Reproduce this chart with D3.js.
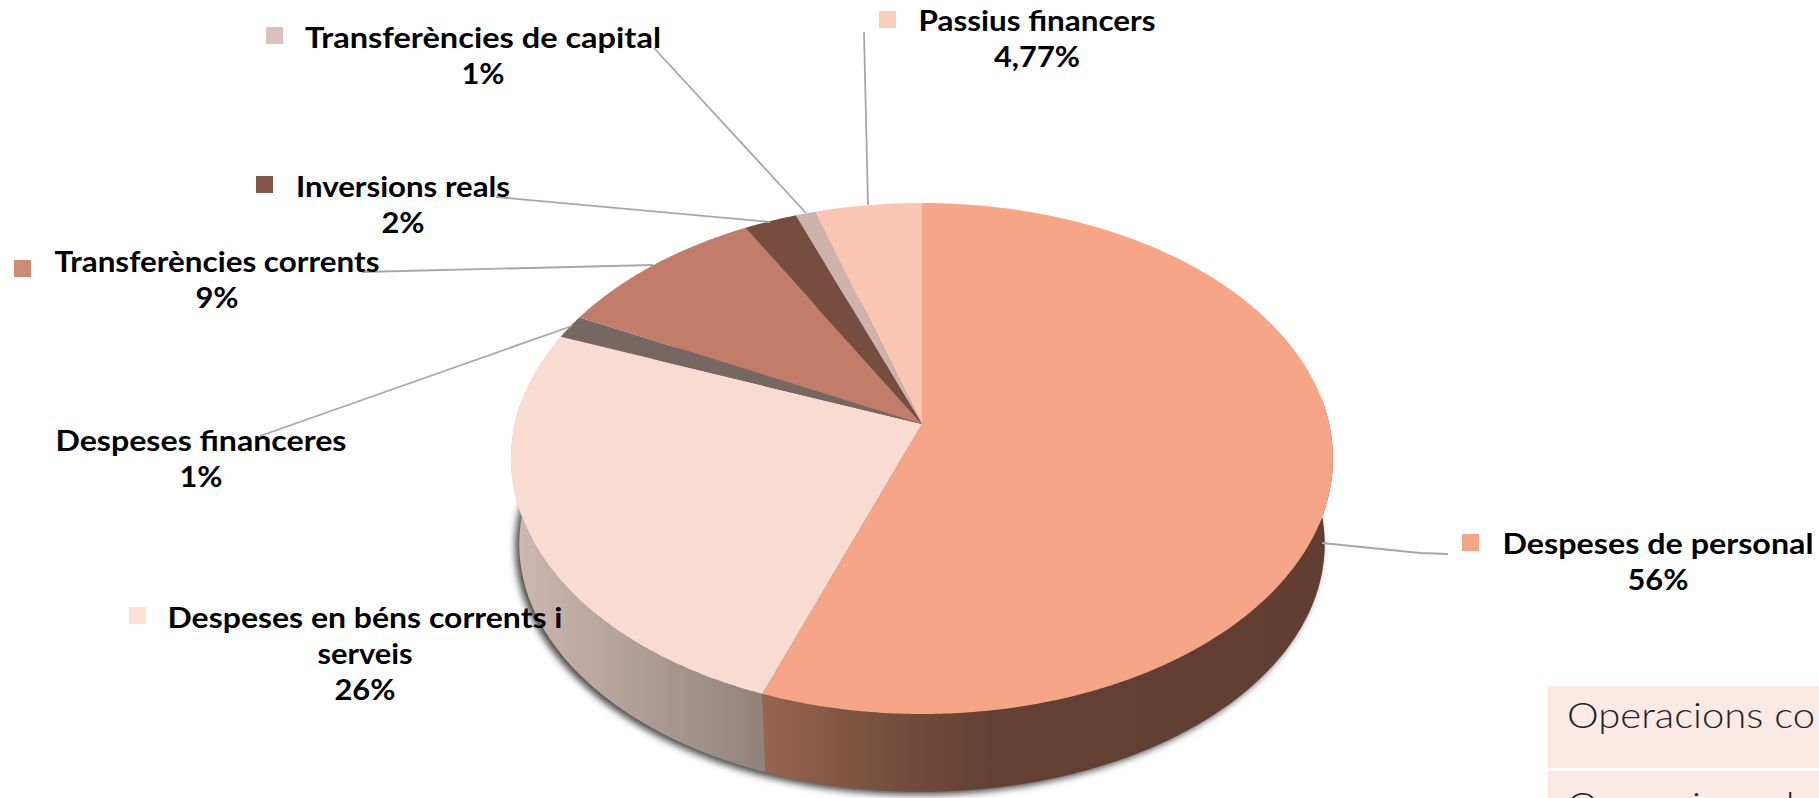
<!DOCTYPE html>
<html>
<head>
<meta charset="utf-8">
<script src="https://cdn.jsdelivr.net/npm/d3@7"></script>
<style>
  html, body { margin: 0; padding: 0; background: #fff; overflow: hidden; }
  text { font-family: Lato, sans-serif; fill: #000; }
  .label { font-weight: 700; font-size: 28px; text-anchor: middle; }
  .side { font-weight: 300; font-size: 35px; fill: #222; }
</style>
</head>
<body>
<svg id="svg" width="1819" height="798"></svg>
<script>
// data
const categories = ['Despeses de personal', 'Despeses en béns corrents i serveis', 'Despeses financeres',
  'Transferències corrents', 'Inversions reals', 'Transferències de capital', 'Passius financers'];
const shares = [55.6, 25.4, 1.5, 9.5, 2.4, 0.9, 4.77];
const shareLabels = ['56%', '26%', '1%', '9%', '2%', '1%', '4,77%'];
const sideLabels = ['Operacions co', 'Operacions de'];

// colours, same order as categories
const sliceColors = ['#F7A587', '#F8DCD2', '#766763', '#C17D69', '#764D3E', '#CDB3AC', '#FAC5B2'];
const markerColors = ['#F7A587', '#FBE1D8', null, '#CF8B75', '#825749', '#DCC1BB', '#FBCDBB'];

// label layout: text lines, centre x, first baseline, width of the longest line, marker x,y, leader line
const layout = [
  { lines: ['Despeses de personal'], x: 1658, y: 554, w: 311, mk: [1462, 534], lead: [[1322, 543], [1420, 553], [1448, 554]] },
  { lines: ['Despeses en béns corrents i', 'serveis'], x: 365, y: 628, w: 395, mk: [129, 607], lead: null },
  { lines: ['Despeses financeres'], x: 201, y: 451, w: 291, mk: null, lead: [[260, 436], [572, 326]] },
  { lines: ['Transferències corrents'], x: 217, y: 272, w: 325, mk: [14, 260], lead: [[362, 272], [653, 265]] },
  { lines: ['Inversions reals'], x: 403, y: 197, w: 214, mk: [256, 176], lead: [[496, 197], [770, 222]] },
  { lines: ['Transferències de capital'], x: 483, y: 48, w: 356, mk: [266, 27], lead: [[654, 48], [806, 213]] },
  { lines: ['Passius financers'], x: 1037, y: 31, w: 237, mk: [879, 11], lead: [[864, 32], [868, 205]] }
];

const svg = d3.select('#svg');
const defs = svg.append('defs');

// perspective of the pie top: apex sits above the ellipse centre
const cx = 922, apexY = 424, persp = -0.135, yGain = 193.6, xGain = 407.2;
const topCy = 458.5;
const bottomCy = 544, bottomSx = 0.98, bottomSy = 0.97;

function topPoint(a) {
  const u = Math.sin(a), v = -Math.cos(a), w = 1 + persp * v;
  return [cx + xGain * u / w, (apexY + yGain * v) / w];
}
function bottomPoint(a) {
  const p = topPoint(a);
  return [cx + (p[0] - cx) * bottomSx, bottomCy + (p[1] - topCy) * bottomSy];
}
function anglesBetween(a0, a1) {
  const n = Math.max(2, Math.ceil(Math.abs(a1 - a0) / 0.01));
  return d3.range(n + 1).map(i => a0 + (a1 - a0) * i / n);
}

const line = d3.line();
const arcs = d3.pie().sort(null).value(d => d)(shares);

// gradients for the side wall
function hGradient(id, x1, x2, stops) {
  const g = defs.append('linearGradient').attr('id', id)
    .attr('gradientUnits', 'userSpaceOnUse')
    .attr('x1', x1).attr('x2', x2).attr('y1', 0).attr('y2', 0);
  stops.forEach(s => g.append('stop').attr('offset', s[0]).attr('stop-color', s[1]));
}
hGradient('wall0', 766, 1333, [[0, '#98634F'], [0.2, '#77503F'], [0.4, '#634034'], [1, '#623E32']]);
hGradient('wall1', 512, 766, [[0, '#CFB9B2'], [1, '#918279']]);

const blur = defs.append('filter').attr('id', 'soft')
  .attr('x', '-5%').attr('y', '-5%').attr('width', '110%').attr('height', '115%');
blur.append('feGaussianBlur').attr('stdDeviation', 3.5);

// shadow under the disc
const rim = anglesBetween(0, 2 * Math.PI);
svg.append('path')
  .attr('d', line(rim.map(a => { const p = bottomPoint(a); return [p[0] - 4, p[1] + 3]; })) + 'Z')
  .attr('fill', '#4a4a4a')
  .attr('filter', 'url(#soft)');

// side wall, only the two front slices show it
[0, 1].forEach(i => {
  const d = arcs[i];
  const a0 = Math.max(d.startAngle, Math.PI / 2 - 0.1);
  const a1 = Math.min(d.endAngle, 3 * Math.PI / 2 + 0.1);
  const as = anglesBetween(a0, a1);
  const pts = as.map(topPoint).concat(as.slice().reverse().map(bottomPoint));
  svg.append('path').attr('d', line(pts) + 'Z').attr('fill', `url(#wall${i})`);
});

// top of the disc
svg.append('g').selectAll('path').data(arcs).join('path')
  .attr('d', d => line([[cx, apexY]].concat(anglesBetween(d.startAngle, d.endAngle).map(topPoint))) + 'Z')
  .attr('fill', (d, i) => sliceColors[i]);

// leader lines
svg.append('g').selectAll('path').data(layout.filter(d => d.lead)).join('path')
  .attr('d', d => line(d.lead))
  .attr('fill', 'none')
  .attr('stroke', '#A6A6A6')
  .attr('stroke-width', 1.8);

// the reference face is wider than Lato, so stretch the short lines by the same amount
const widen = 1.1;
function addLabelLine(t, x, y, w) {
  const el = svg.append('text').attr('class', 'label').attr('x', x).attr('y', y).text(t);
  el.attr('textLength', w || el.node().getComputedTextLength() * widen)
    .attr('lengthAdjust', 'spacingAndGlyphs');
}

// markers and labels
layout.forEach((d, i) => {
  if (d.mk) {
    svg.append('rect').attr('x', d.mk[0]).attr('y', d.mk[1]).attr('width', 17).attr('height', 17)
      .attr('fill', markerColors[i]);
  }
  d.lines.forEach((t, j) => addLabelLine(t, d.x, d.y + j * 36, j === 0 ? d.w : null));
  addLabelLine(shareLabels[i], d.x, d.y + d.lines.length * 36, null);
});

// side table, cut by the edge of the page
const rowY = [686, 771], rowH = [82, 82], baseY = [728, 818];
sideLabels.forEach((t, i) => {
  svg.append('rect').attr('x', 1548).attr('y', rowY[i]).attr('width', 271).attr('height', rowH[i])
    .attr('fill', '#FAE9E5');
  svg.append('text').attr('class', 'side').attr('x', 1567).attr('y', baseY[i])
    .attr('textLength', 248).attr('lengthAdjust', 'spacingAndGlyphs').text(t);
});
</script>
</body>
</html>
